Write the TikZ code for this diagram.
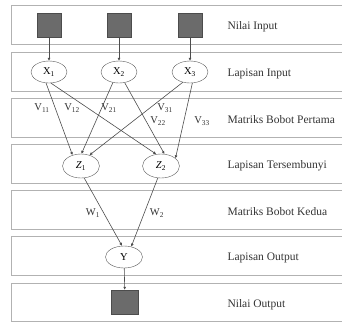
\documentclass[tikz,border=0pt]{standalone}
\usepackage{fontspec}
\setmainfont{Liberation Serif}
\usetikzlibrary{arrows.meta}
\usetikzlibrary{shapes.geometric}

\begin{document}
\begin{tikzpicture}[x=1pt,y=-1pt,
  band/.style={draw=black!30,line width=0.6pt},
  datum/.style={draw=black!70,fill=black!58,minimum width=24pt,minimum height=24pt,inner sep=0pt},
  neuron/.style={draw=black!65,ellipse,minimum width=36pt,minimum height=22pt,inner sep=0pt,font=\fontsize{10.5}{12}\selectfont},
  caption/.style={anchor=west,text=black!80,font=\fontsize{11.5}{13}\selectfont},
  weight/.style={text=black!80,font=\fontsize{10.5}{12}\selectfont},
  link/.style={-{Latex[length=3pt,width=3pt]},draw=black!70,line width=0.6pt}]
\useasboundingbox (0,0) rectangle (342,322);

% layer bands
\draw[band] (343,5) -| (11,44) -- (343,44);
\draw[band] (343,52) -| (11,91) -- (343,91);
\draw[band] (343,98) -| (11,137) -- (343,137);
\draw[band] (343,144) -| (11,183) -- (343,183);
\draw[band] (343,190) -| (11,229) -- (343,229);
\draw[band] (343,236) -| (11,275) -- (343,275);
\draw[band] (343,283) -| (11,321) -- (343,321);

\node[caption] (c1) at (224,27) {Nilai Input};
\node[caption] (c2) at (224,74) {Lapisan Input};
\node[caption] (c3) at (224,120) {Matriks Bobot Pertama};
\node[caption] (c4) at (224,166) {Lapisan Tersembunyi};
\node[caption] (c5) at (224,212) {Matriks Bobot Kedua};
\node[caption] (c6) at (224,258) {Lapisan Output};
\node[caption] (c7) at (224,305) {Nilai Output};

% input values and input layer
\node[datum] (in1) at (49,25) {};
\node[datum] (in2) at (119,25) {};
\node[datum] (in3) at (190,25) {};

\node[neuron] (x1) at (49,72) {X\textsubscript{1}};
\node[neuron] (x2) at (119,72) {X\textsubscript{2}};
\node[neuron] (x3) at (190,72) {X\textsubscript{3}};

\draw[link] (in1) -- (x1);
\draw[link] (in2) -- (x2);
\draw[link] (in3) -- (x3);

% hidden layer
\node[neuron,minimum width=37pt,minimum height=24pt] (z1) at (81,166) {\textit{Z}\textsubscript{1}};
\node[neuron,minimum width=37pt,minimum height=24pt] (z2) at (161,166) {\textit{Z}\textsubscript{2}};

\draw[link] (x1.-105) -- (z1.128);
\draw[link] (x1.-80) -- (z2.112);
\draw[link] (x2.-120) -- (z1.88);
\draw[link] (x2.-62) -- (z2.74);
\draw[link] (x3.-125) -- (z1.52);
\draw[link] (x3.-78) -- (z2.28);

\node[weight] (v11) at (42,108) {V\textsubscript{11}};
\node[weight] (v12) at (72,108) {V\textsubscript{12}};
\node[weight] (v21) at (109,108) {V\textsubscript{21}};
\node[weight] (v31) at (165,108) {V\textsubscript{31}};
\node[weight] (v22) at (158,121) {V\textsubscript{22}};
\node[weight] (v33) at (202,121) {V\textsubscript{33}};

% output layer
\node[neuron,minimum width=37pt] (y) at (124,257) {Y};

\draw[link] (z1.-75) -- (y.100);
\draw[link] (z2.-105) -- (y.55);

\node[weight] (w1) at (93,213) {W\textsubscript{1}};
\node[weight] (w2) at (157,213) {W\textsubscript{2}};

\node[datum,minimum width=27pt] (out) at (125,302) {};
\draw[link] (y) -- (out);
\end{tikzpicture}
\end{document}
